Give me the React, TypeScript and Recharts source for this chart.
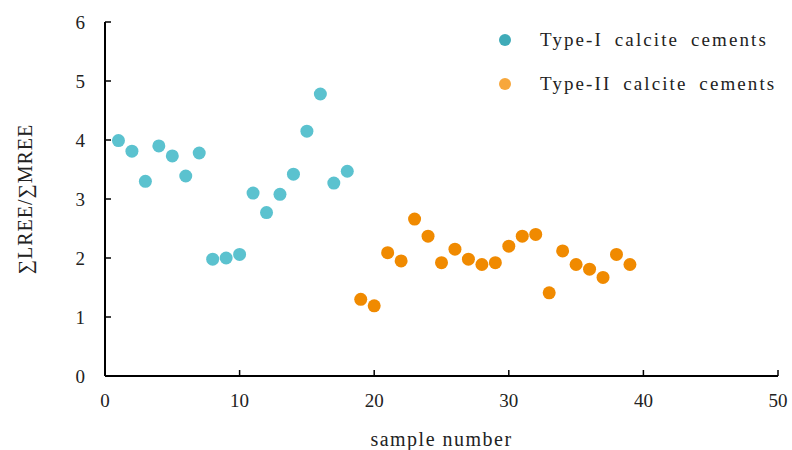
import React from "react";
import {
  ScatterChart,
  Scatter,
  XAxis,
  YAxis,
  Label,
} from "recharts";

const typeISamples = [1, 2, 3, 4, 5, 6, 7, 8, 9, 10, 11, 12, 13, 14, 15, 16, 17, 18];
const typeIRatio = [
  3.99, 3.81, 3.3, 3.9, 3.73, 3.39, 3.78, 1.98, 2.0, 2.06, 3.1, 2.77, 3.08, 3.42,
  4.15, 4.78, 3.27, 3.47,
];

const typeIISamples = [
  19, 20, 21, 22, 23, 24, 25, 26, 27, 28, 29, 30, 31, 32, 33, 34, 35, 36, 37, 38, 39,
];
const typeIIRatio = [
  1.3, 1.19, 2.09, 1.95, 2.66, 2.37, 1.92, 2.15, 1.98, 1.89, 1.92, 2.2, 2.37, 2.4,
  1.41, 2.12, 1.89, 1.81, 1.67, 2.06, 1.89,
];

const xTicks = [0, 10, 20, 30, 40, 50];
const yTicks = [0, 1, 2, 3, 4, 5, 6];

const typeIData = typeISamples.map((x, i) => ({ x, y: typeIRatio[i] }));
const typeIIData = typeIISamples.map((x, i) => ({ x, y: typeIIRatio[i] }));

const FONT = "'Liberation Serif', 'Times New Roman', serif";
const tickStyle = { fontSize: 19, fill: "#222", fontFamily: FONT };

const legendItems = [
  { label: "Type-I calcite cements", color: "#3fabb8" },
  { label: "Type-II calcite cements", color: "#f7a73c" },
];

// legend sits inside the plot, top right, so it is drawn over the chart
const LegendBox = () => (
  <div style={{ position: "absolute", left: 498, top: 18, fontFamily: FONT }}>
    {legendItems.map((it) => (
      <div
        key={it.label}
        style={{ display: "flex", alignItems: "center", height: 44 }}
      >
        <svg width={14} height={14} style={{ marginRight: 28 }}>
          <circle cx={7} cy={7} r={6} fill={it.color} />
        </svg>
        <span
          style={{
            fontSize: 19,
            color: "#222",
            letterSpacing: 2.1,
            wordSpacing: 5,
          }}
        >
          {it.label}
        </span>
      </div>
    ))}
  </div>
);

export default function App() {
  return (
    <div style={{ position: "absolute", left: 0, top: 0, background: "#fff" }}>
      <ScatterChart
        width={792}
        height={450}
        margin={{ top: 22, right: 14, bottom: 34, left: 45 }}
      >
        <XAxis
          type="number"
          dataKey="x"
          domain={[0, 50]}
          ticks={xTicks}
          allowDataOverflow
          height={40}
          axisLine={{ stroke: "#000", strokeWidth: 2 }}
          tickLine={{ stroke: "#000", strokeWidth: 1.5 }}
          tickSize={-6}
          tickMargin={24}
          tick={tickStyle}
        >
          <Label
            value="sample number"
            position="insideBottom"
            offset={-30}
            style={{ fontSize: 20, fill: "#222", fontFamily: FONT, letterSpacing: 1.5 }}
          />
        </XAxis>
        <YAxis
          type="number"
          dataKey="y"
          domain={[0, 6]}
          ticks={yTicks}
          width={60}
          axisLine={{ stroke: "#000", strokeWidth: 2 }}
          tickLine={{ stroke: "#000", strokeWidth: 1.5 }}
          tickSize={-6}
          tickMargin={26}
          tick={tickStyle}
        >
          <Label
            value="∑LREE/∑MREE"
            angle={-90}
            position="insideLeft"
            offset={-20}
            style={{ fontSize: 20, fill: "#222", fontFamily: FONT, textAnchor: "middle", letterSpacing: 1 }}
          />
        </YAxis>
        <Scatter
          name="Type-I calcite cements"
          data={typeIData}
          fill="#5bc2cf"
          isAnimationActive={false}
          shape={(p: any) => <circle cx={p.cx} cy={p.cy} r={6.5} fill="#5bc2cf" />}
        />
        <Scatter
          name="Type-II calcite cements"
          data={typeIIData}
          fill="#f08a00"
          isAnimationActive={false}
          shape={(p: any) => <circle cx={p.cx} cy={p.cy} r={6.5} fill="#f08a00" />}
        />
      </ScatterChart>
      <LegendBox />
    </div>
  );
}
